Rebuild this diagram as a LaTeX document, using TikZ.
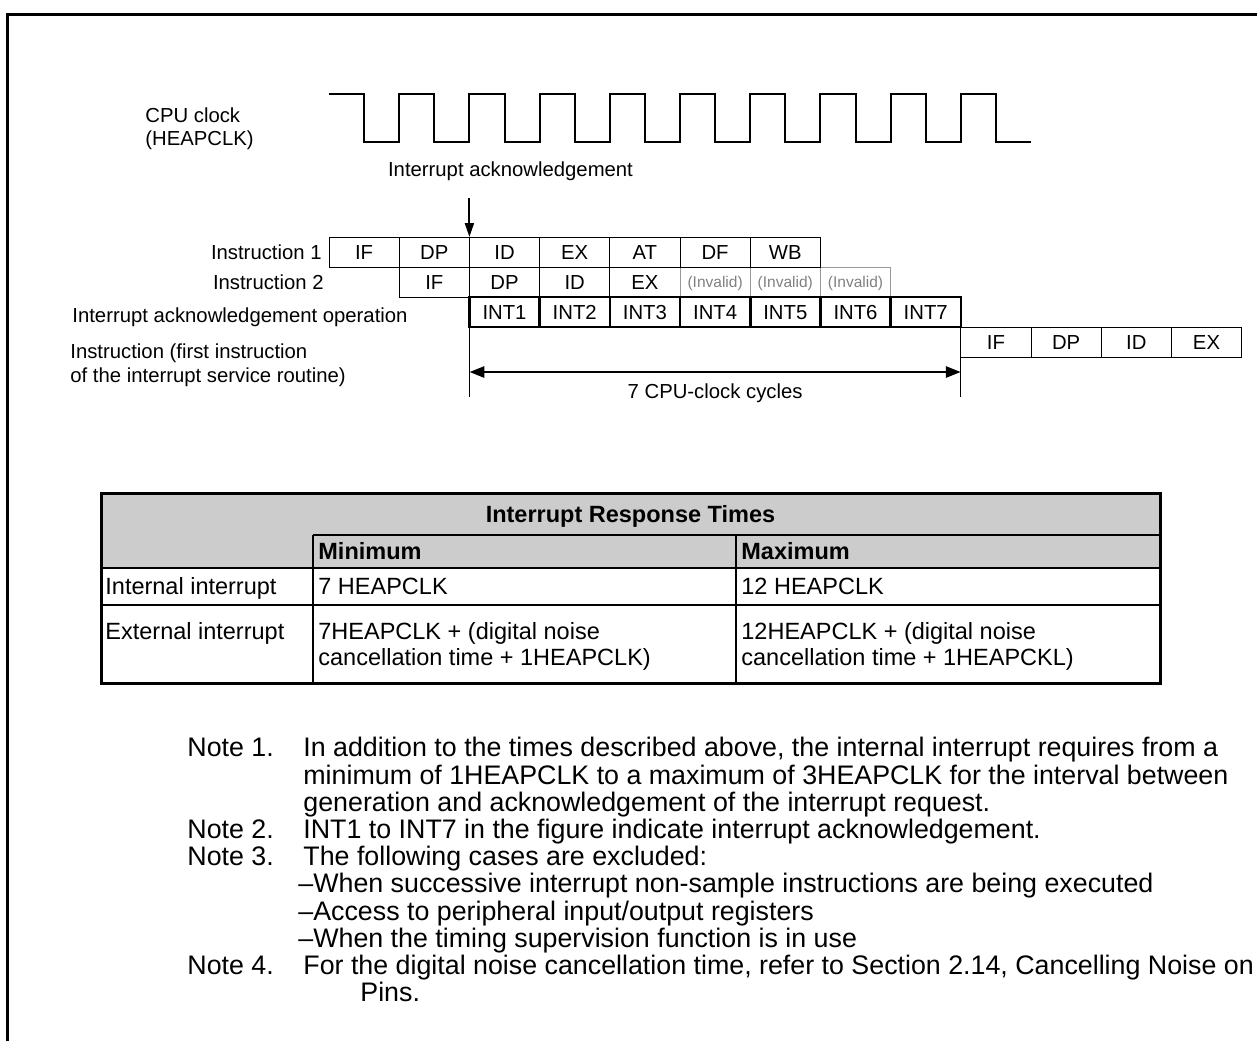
\documentclass[tikz,border=0pt]{standalone}
\usepackage{fontspec}
\setmainfont{Liberation Sans}
\usetikzlibrary{arrows.meta, positioning}

\newcommand{\diagfont}{\fontsize{10.15}{11.5}\selectfont}
\newcommand{\invfont}{\fontsize{7.75}{9}\selectfont}
\newcommand{\tabfont}{\fontsize{11.75}{13}\selectfont}
\newcommand{\notefont}{\fontsize{13.4}{13.6}\selectfont}

\tikzset{
  cell/.style={draw, line width=0.5pt, minimum width=35.1pt, minimum height=15pt,
    inner sep=0pt, outer sep=0pt, font=\diagfont, text height=7.3pt, text depth=0pt},
  invcell/.style={cell, draw=black!40, text=black!50, font=\invfont, text height=5.6pt},
  intcell/.style={cell, line width=1.3pt},
  lbl/.style={inner sep=0pt, font=\diagfont, text height=7.3pt, text depth=0pt},
  lbllines/.style={inner sep=0pt, align=left, anchor=north west},
  clockline/.style={line width=1pt, line join=miter},
  thinline/.style={line width=0.5pt},
  ackarrow/.style={-{Triangle[length=7pt,width=4.5pt]}, line width=1pt},
  spanarrow/.style={{Triangle[length=7.5pt,width=5.5pt]}-{Triangle[length=7.5pt,width=5.5pt]}, line width=1.4pt},
  frame/.style={line width=1.5pt},
  tabhead/.style={fill=black!20},
  tabrule/.style={line width=1pt},
  tabborder/.style={line width=1.5pt},
  tabtxt/.style={inner sep=0pt, font=\tabfont, text height=8.46pt, text depth=0pt, anchor=west},
  tablines/.style={inner sep=0pt, font=\tabfont, align=left, anchor=north west},
  notelbl/.style={inner sep=0pt, font=\notefont, text height=9.65pt, text depth=0pt, anchor=west},
  notetxt/.style={inner sep=0pt, font=\notefont, align=left, anchor=north west}
}

\begin{document}
\begin{tikzpicture}[x=0.5pt, y=-0.5pt]
\useasboundingbox (0,0) rectangle (1257,1041);

% outer frame
\draw[frame] (7,1041) -- (7,14) -- (1257,14);

% CPU clock
\node (clk) [lbllines, font=\diagfont] at (145,107.5) {CPU clock\\(HEAPCLK)};
\draw[clockline] (329,94)
  foreach \k in {1,...,9} { -- ++(35.1,0) -- ++(0,48) -- ++(35.1,0) -- ++(0,-48) }
  -- ++(35.1,0) -- ++(0,48) -- ++(35.1,0);

% instruction 2 (drawn first, its grey cells sit under the black rows)
\node (i2if) [cell, anchor=north west] at (399.2,267) {IF};
\node (i2dp) [cell, right=0pt of i2if] {DP};
\node (i2id) [cell, right=0pt of i2dp] {ID};
\node (i2ex) [cell, right=0pt of i2id] {EX};
\node (i2inv1) [invcell, right=0pt of i2ex] {(Invalid)};
\node (i2inv2) [invcell, right=0pt of i2inv1] {(Invalid)};
\node (i2inv3) [invcell, right=0pt of i2inv2] {(Invalid)};

% instruction 1
\node (i1if) [cell, anchor=south east] at (i2if.north west) {IF};
\node (i1dp) [cell, right=0pt of i1if] {DP};
\node (i1id) [cell, right=0pt of i1dp] {ID};
\node (i1ex) [cell, right=0pt of i1id] {EX};
\node (i1at) [cell, right=0pt of i1ex] {AT};
\node (i1df) [cell, right=0pt of i1at] {DF};
\node (i1wb) [cell, right=0pt of i1df] {WB};

% interrupt acknowledgement operation
\node (int1) [intcell, below=0pt of i2dp] {INT1};
\node (int2) [intcell, right=0pt of int1] {INT2};
\node (int3) [intcell, right=0pt of int2] {INT3};
\node (int4) [intcell, right=0pt of int3] {INT4};
\node (int5) [intcell, right=0pt of int4] {INT5};
\node (int6) [intcell, right=0pt of int5] {INT6};
\node (int7) [intcell, right=0pt of int6] {INT7};

% first instruction of the service routine
\node (isrif) [cell, anchor=north west] at (int7.south east) {IF};
\node (isrdp) [cell, right=0pt of isrif] {DP};
\node (isrid) [cell, right=0pt of isrdp] {ID};
\node (isrex) [cell, right=0pt of isrid] {EX};

% row labels
\node (lbl1) [lbl, left=3.5pt of i1if] {Instruction 1};
\node (lbl2) [lbl, anchor=east, xshift=-2.5pt] at (i1if.west |- i2if.west) {Instruction 2};
\node (lblint) [lbl, anchor=west] at (72,315) {Interrupt acknowledgement operation};
\node (lblisr) [lbllines, font=\fontsize{10.15}{12}\selectfont] at (70,343.5)
  {Instruction (first instruction\\of the interrupt service routine)};

% acknowledgement arrow
\node (ack) [lbl] at (510.5,169) {Interrupt acknowledgement};
\coordinate (ackstart) at (469.4,198);
\draw[ackarrow] (ackstart) -- (i1id.north west);

% 7 cycles span
\coordinate (cycrow) at (0,372);
\draw[thinline] (int1.south west) -- ++(0,70);
\draw[thinline] (isrif.north west) -- ++(0,70);
\draw[spanarrow] (int1.south west |- cycrow) -- (isrif.north west |- cycrow)
  node[lbl, midway, below=5.3pt] (cyc) {7 CPU-clock cycles};

% response time table
\fill[tabhead] (101,493) rectangle (1160,568);
\draw[tabrule] (313,535) -- (1160,535);
\draw[tabrule] (101,568) -- (1160,568);
\draw[tabrule] (101,605) -- (1160,605);
\draw[tabrule] (313,535) -- (313,683);
\draw[tabrule] (736,535) -- (736,683);
\draw[tabborder] (101,493) rectangle (1160,683);

\node (ttitle) [tabtxt, anchor=center, font=\tabfont\bfseries] at (630.5,514) {Interrupt Response Times};
\node (tmin) [tabtxt, font=\tabfont\bfseries] at (318,551.5) {Minimum};
\node (tmax) [tabtxt, font=\tabfont\bfseries] at (741,551.5) {Maximum};
\node (tint) [tabtxt] at (105,586.5) {Internal interrupt};
\node (tintmin) [tabtxt] at (318,586.5) {7 HEAPCLK};
\node (tintmax) [tabtxt] at (741,586.5) {12 HEAPCLK};
\node (text) [tabtxt] at (105,631) {External interrupt};
\node (textmin) [tablines] at (318,622.2) {7HEAPCLK + (digital noise\\cancellation time + 1HEAPCLK)};
\node (textmax) [tablines] at (741,622.2) {12HEAPCLK + (digital noise\\cancellation time + 1HEAPCKL)};

% notes
\node (n1) [notelbl] at (187,747) {Note 1.};
\node (n1txt) [notetxt] at (303,737) {In addition to the times described above, the internal interrupt requires from a\\
  minimum of 1HEAPCLK to a maximum of 3HEAPCLK for the interval between\\
  generation and acknowledgement of the interrupt request.};
\node (n2) [notelbl] at (187,828.6) {Note 2.};
\node (n2txt) [notetxt] at (303,818.6) {INT1 to INT7 in the figure indicate interrupt acknowledgement.};
\node (n3) [notelbl] at (187,855.8) {Note 3.};
\node (n3txt) [notetxt] at (303,845.8) {The following cases are excluded:};
\node (n3list) [notetxt] at (298,873) {\textendash When successive interrupt non-sample instructions are being executed\\
  \textendash Access to peripheral input/output registers\\
  \textendash When the timing supervision function is in use};
\node (n4) [notelbl] at (187,964.6) {Note 4.};
\node (n4txt) [notetxt] at (303,954.6) {For the digital noise cancellation time, refer to Section 2.14, Cancelling Noise on\\
  \hspace*{28.5pt}Pins.};
\end{tikzpicture}
\end{document}
